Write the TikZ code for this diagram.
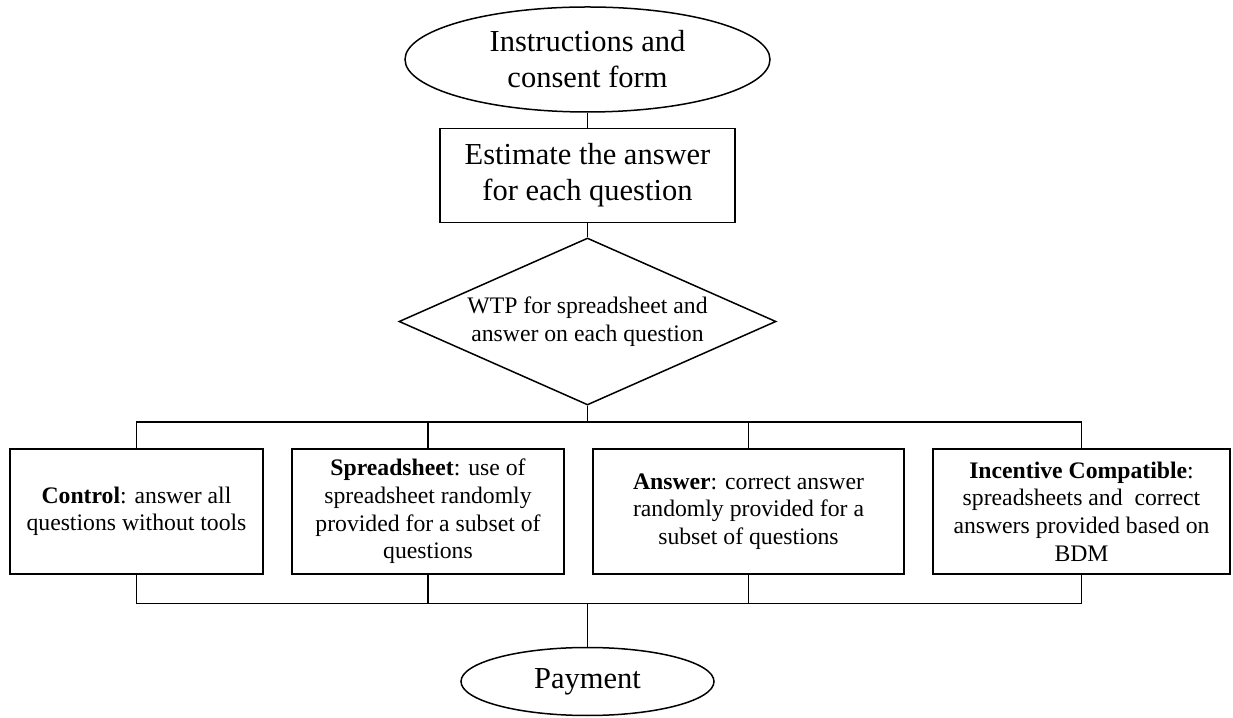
\documentclass[tikz,border=0pt]{standalone}
\usepackage{fontspec}
\setmainfont{Liberation Serif}
\usepackage{tikz}
\usetikzlibrary{positioning,shapes.geometric}

\begin{document}
\begin{tikzpicture}[
  x=1pt, y=1pt, line width=1.5pt,
  oval/.style = {draw, ellipse, inner sep=0pt, align=center,
                 font=\fontsize{30.5}{36}\selectfont},
  blk/.style  = {draw, rectangle, inner sep=0pt, align=center,
                 font=\fontsize{30.5}{36}\selectfont},
  % the four treatment arms share one height; widths differ per arm
  arm/.style  = {draw, rectangle, inner sep=0pt, align=center,
                 minimum height=125pt, font=\fontsize{23.7}{27.6}\selectfont},
  ch/.style   = {draw, diamond, aspect=2.26, inner sep=0pt, align=center,
                 minimum width=377pt, minimum height=167pt,
                 font=\fontsize{23.7}{27.6}\selectfont},
]
\useasboundingbox (0,0) rectangle (1233,717);
\node[oval, minimum width=365pt, minimum height=105pt] (intro) at (587.5,657.5)
  {Instructions and\\consent form};
\node[blk, minimum width=295pt, minimum height=94pt, below=15pt of intro] (est)
  {Estimate the answer\\for each question};
\node[ch, below=14pt of est] (wtp) {WTP for spreadsheet and\\answer on each question};
\foreach \i/\cx/\bw/\txt in {
  1/136.5/253/{\textbf{Control}: answer all\\questions without tools},
  2/428/272/{\textbf{Spreadsheet}: use of\\spreadsheet randomly\\provided for a subset of\\questions},
  3/748.5/311/{\textbf{Answer}: correct answer\\randomly provided for a\\subset of questions},
  4/1081.5/297/{\textbf{Incentive Compatible}:\\spreadsheets and\ \ correct\\answers provided based on\\BDM}}
{
  \node[arm, minimum width=\bw pt] (b\i) at (\cx,205.5) {\txt};
}
\node[oval, minimum width=253pt, minimum height=68pt] (pay) at (587.5,35.5) {Payment};
% split and join bars
\coordinate (busT) at (587.5,295);
\coordinate (busB) at (587.5,113.5);
\draw (intro) -- (est);
\draw (est) -- (wtp);
\draw (wtp.south) -- (busT);
\draw (b1.north) |- (busT) -| (b4.north);
\draw (b1.south) |- (busB) -| (b4.south);
\foreach \b in {b2,b3} {
  \draw (\b.north) -- (\b.north |- busT);
  \draw (\b.south) -- (\b.south |- busB);
}
\draw (busB) -- (pay);
\end{tikzpicture}
\end{document}
